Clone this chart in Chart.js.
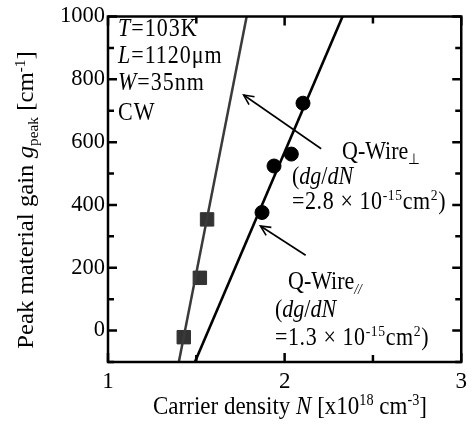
<!DOCTYPE html>
<html>
<head>
<meta charset="utf-8">
<script src="https://cdn.jsdelivr.net/npm/chart.js@4.4.1/dist/chart.umd.min.js"></script>
<style>
html,body{margin:0;padding:0;background:#fff;}
#wrap{position:relative;width:473px;height:427px;}
</style>
</head>
<body>
<div id="wrap"><canvas id="c" width="473" height="427"></canvas></div>
<script>
// ---- data ----
const perpN = [1.429, 1.520, 1.561];          // Q-Wire⊥ (squares)
const perpG = [-21, 168, 354];
const paraN = [1.872, 1.940, 2.038, 2.104];   // Q-Wire// (circles)
const paraG = [376, 524, 562, 724];
const perpFitN = [1.401, 1.785];
const perpFitG = [-100, 1000];
const paraFitN = [1.492, 2.328];
const paraFitG = [-100, 1000];
const xTickLabels = [1, 2, 3];
const yTickLabels = [0, 200, 400, 600, 800, 1000];
// arrows [fromN, fromG, toN, toG]
const arrowPerp = [2.207, 579, 1.768, 750];
const arrowPara = [2.119, 240, 1.863, 333];

const pts = (xs, ys) => xs.map((x, i) => ({x, y: ys[i]}));
const SERIF = '"Liberation Serif","Times New Roman",serif';
const STRETCH = 1.1;

function drawRich(ctx, x, y, segs, size, sx, sy) {
  ctx.save();
  ctx.translate(x, y);
  ctx.scale(sx || 1, sy || STRETCH);
  let cx = 0;
  for (const s of segs) {
    const fs = s.pos ? size * 0.62 : size;
    ctx.font = (s.it ? 'italic ' : '') + fs + 'px ' + SERIF;
    let dy = 0;
    if (s.pos === 'sup') dy = -size * 0.36;
    if (s.pos === 'sub') dy = size * 0.22;
    ctx.fillText(s.t, cx, dy);
    cx += ctx.measureText(s.t).width;
  }
  ctx.restore();
  return cx;
}
function richWidth(ctx, segs, size) {
  let w = 0;
  for (const s of segs) {
    const fs = s.pos ? size * 0.62 : size;
    ctx.font = (s.it ? 'italic ' : '') + fs + 'px ' + SERIF;
    w += ctx.measureText(s.t).width;
  }
  return w;
}

const deco = {
  id: 'deco',
  afterDraw(chart) {
    const {ctx, chartArea: a, scales: {x, y}} = chart;
    ctx.save();
    // frame
    ctx.strokeStyle = '#000';
    ctx.lineWidth = 2.5;
    ctx.strokeRect(a.left, a.top, a.right - a.left, a.bottom - a.top);
    // ticks (inward)
    for (let v = -100; v <= 1000; v += 100) {
      const py = y.getPixelForValue(v);
      const len = (v % 200 === 0) ? 9 : 6;
      ctx.beginPath();
      ctx.moveTo(a.left, py); ctx.lineTo(a.left + len, py);
      ctx.moveTo(a.right, py); ctx.lineTo(a.right - len, py);
      ctx.stroke();
    }
    for (let v = 1; v <= 3; v += 0.5) {
      const px = x.getPixelForValue(v);
      const len = Number.isInteger(v) ? 9 : 7;
      ctx.beginPath();
      ctx.moveTo(px, a.bottom); ctx.lineTo(px, a.bottom - len);
      ctx.moveTo(px, a.top); ctx.lineTo(px, a.top + len);
      ctx.stroke();
    }
    // arrows
    function arrow(ar) {
      const x1 = x.getPixelForValue(ar[0]), y1 = y.getPixelForValue(ar[1]);
      const x2 = x.getPixelForValue(ar[2]), y2 = y.getPixelForValue(ar[3]);
      ctx.lineWidth = 1.6;
      ctx.strokeStyle = '#000';
      ctx.beginPath(); ctx.moveTo(x1, y1); ctx.lineTo(x2, y2); ctx.stroke();
      const ang = Math.atan2(y2 - y1, x2 - x1);
      const hl = 11, hw = 0.45;
      ctx.beginPath();
      ctx.moveTo(x2 - hl * Math.cos(ang - hw), y2 - hl * Math.sin(ang - hw));
      ctx.lineTo(x2, y2);
      ctx.lineTo(x2 - hl * Math.cos(ang + hw), y2 - hl * Math.sin(ang + hw));
      ctx.stroke();
    }
    arrow(arrowPerp);
    arrow(arrowPara);
    // texts
    ctx.fillStyle = '#000';
    ctx.textBaseline = 'alphabetic';
    ctx.textAlign = 'left';
    const fs = 22;
    ctx.letterSpacing = '1px';
    drawRich(ctx, 118, 36, [{t:'T', it:true}, {t:'=103K'}], fs);
    drawRich(ctx, 118, 63, [{t:'L', it:true}, {t:'=1120μm'}], fs);
    drawRich(ctx, 118, 90, [{t:'W', it:true}, {t:'=35nm'}], fs);
    drawRich(ctx, 118, 120, [{t:'CW'}], fs);
    ctx.letterSpacing = '0px';
    drawRich(ctx, 342, 159, [{t:'Q-Wire'}, {t:'⊥', pos:'sub'}], fs);
    drawRich(ctx, 292, 184, [{t:'('}, {t:'dg', it:true}, {t:'/'}, {t:'dN', it:true}], fs);
    ctx.letterSpacing = '0.6px';
    drawRich(ctx, 292, 209, [{t:'=2.8 × 10'}, {t:'-15', pos:'sup'}, {t:'cm'}, {t:'2', pos:'sup'}, {t:')'}], fs);
    ctx.letterSpacing = '0px';
    drawRich(ctx, 288, 289, [{t:'Q-Wire'}, {t:'//', pos:'sub', it:true}], fs);
    drawRich(ctx, 275, 317, [{t:'('}, {t:'dg', it:true}, {t:'/'}, {t:'dN', it:true}], fs);
    ctx.letterSpacing = '0.6px';
    drawRich(ctx, 275, 345, [{t:'=1.3 × 10'}, {t:'-15', pos:'sup'}, {t:'cm'}, {t:'2', pos:'sup'}, {t:')'}], fs);
    ctx.letterSpacing = '0px';
    // axis titles
    const xfs = 23;
    const xt = [{t:'Carrier density '}, {t:'N', it:true}, {t:' [x10'}, {t:'18', pos:'sup'}, {t:' cm'}, {t:'-3', pos:'sup'}, {t:']'}];
    const xw = richWidth(ctx, xt, xfs);
    drawRich(ctx, 290 - xw / 2, 414, xt, xfs);
    const yt = [{t:'Peak material gain '}, {t:'g', it:true}, {t:'peak', pos:'sub'}, {t:' [cm'}, {t:'-1', pos:'sup'}, {t:']'}];
    const yfs = 22.5;
    const yw = richWidth(ctx, yt, yfs) * STRETCH;
    ctx.save();
    ctx.translate(33, 200);
    ctx.rotate(-Math.PI / 2);
    drawRich(ctx, -yw / 2, 0, yt, yfs, STRETCH, 1);
    ctx.restore();
    ctx.restore();
  }
};

new Chart(document.getElementById('c'), {
  type: 'scatter',
  data: {
    datasets: [
      {label: 'fit ⊥', data: pts(perpFitN, perpFitG), showLine: true, borderColor: '#3a3a3a', borderWidth: 2.5, pointRadius: 0},
      {label: 'fit //', data: pts(paraFitN, paraFitG), showLine: true, borderColor: '#000', borderWidth: 2.6, pointRadius: 0},
      {label: 'Q-Wire⊥', data: pts(perpN, perpG), pointStyle: 'rect', pointRadius: 9.5, backgroundColor: '#333', borderColor: '#333'},
      {label: 'Q-Wire//', data: pts(paraN, paraG), pointStyle: 'circle', pointRadius: 7, backgroundColor: '#000', borderColor: '#000'}
    ]
  },
  options: {
    responsive: false,
    animation: false,
    layout: {padding: {top: 7, right: 11, left: 0, bottom: 0}},
    plugins: {legend: {display: false}, tooltip: {enabled: false}},
    scales: {
      x: {
        type: 'linear', min: 1, max: 3,
        afterFit: s => { s.height = 65; },
        grid: {display: false, drawTicks: false},
        border: {display: false},
        ticks: {
          stepSize: 0.5, padding: 6, color: '#000',
          font: {family: SERIF, size: 23},
          callback: v => xTickLabels.includes(v) ? String(v) : ''
        }
      },
      y: {
        type: 'linear', min: -100, max: 1000,
        afterFit: s => { s.width = 108; },
        grid: {display: false, drawTicks: false},
        border: {display: false},
        ticks: {
          stepSize: 100, padding: 3, color: '#000',
          font: {family: SERIF, size: 22.5},
          callback: v => yTickLabels.includes(v) ? String(v) : ''
        }
      }
    }
  },
  plugins: [deco]
});
</script>
</body>
</html>
